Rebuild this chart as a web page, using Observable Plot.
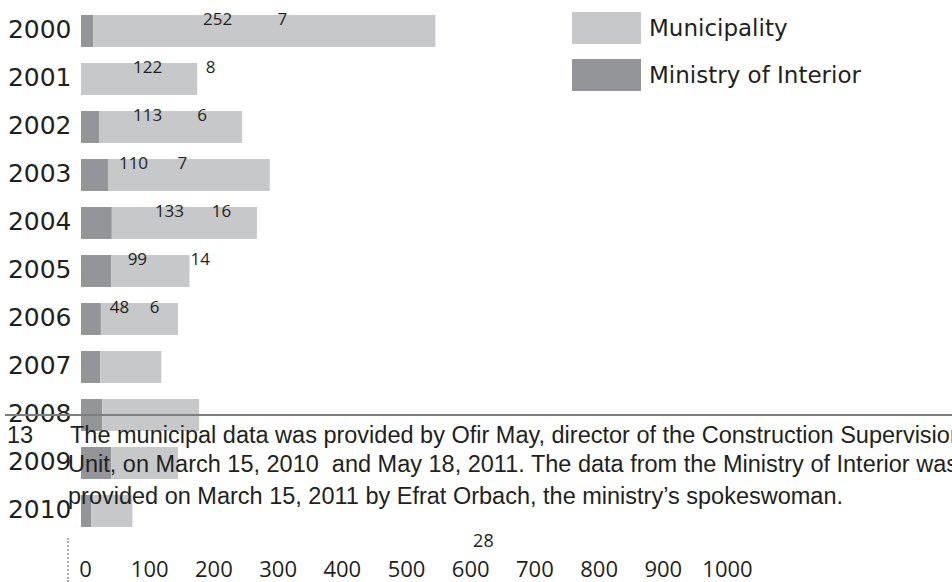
<!DOCTYPE html>
<html>
<head>
<meta charset="utf-8">
<script src="https://cdn.jsdelivr.net/npm/d3@7"></script>
<script src="https://cdn.jsdelivr.net/npm/@observablehq/plot@0.6"></script>
<style>
  body { margin: 0; background: #fff; }
  #wrap { position: relative; width: 952px; height: 582px; overflow: hidden; color: #231f20; background: #fff; }
  #chart svg { display: block; }
  .abs { position: absolute; white-space: nowrap; }
  .fn { font-family: "Liberation Sans", Arial, sans-serif; font-size: 23.5px; line-height: 23.5px; }
  .lg { font-family: "DejaVu Sans", sans-serif; font-size: 23px; line-height: 23px; }
  .sw { position: absolute; width: 69px; height: 32px; }
  .rule { position: absolute; left: 5px; right: 0; top: 414px; height: 1.6px; background: #7d7d7d; }
  .dots { position: absolute; left: 67px; top: 538px; height: 44px; border-left: 2px dotted #a9a9a9; }
</style>
</head>
<body>
<div id="wrap">
  <div id="chart"></div>
</div>
<script>
// ---- data ----
const years = ["2000","2001","2002","2003","2004","2005","2006","2007","2008","2009","2010"];
const ministry     = [19,  0, 28, 42, 48, 47, 31, 30, 33, 47, 16];   // dark segment
const municipality = [533, 181, 223, 252, 226, 122, 120, 95, 151, 104, 64]; // light segment
const seriesNames = ["Ministry of Interior", "Municipality"];
const legendOrder = ["Municipality", "Ministry of Interior"];
const xTicks = [0, 100, 200, 300, 400, 500, 600, 700, 800, 900, 1000];

// printed numbers as they appear (garbled annotations of the original)
const noteYears        = ["2000","2001","2002","2003","2004","2005","2006"];
const municipalNotes   = [252, 122, 113, 110, 133, 99, 48];
const ministryNotes    = [7, 8, 6, 7, 16, 14, 6];
const strayNote        = 28;
// annotation placement on the x scale (layout, not data)
const municipalNoteAt  = [212, 103, 103, 81, 137, 87, 59];
const ministryNoteAt   = [313, 201, 188, 157, 218, 185, 114];
const strayNoteAt      = 626;

const footnote = [
  "The municipal data was provided by Ofir May, director of the Construction Supervision",
  "Unit, on March 15, 2010\u00a0 and May 18, 2011. The data from the Ministry of Interior was",
  "provided on March 15, 2011 by Efrat Orbach, the ministry\u2019s spokeswoman."
];
const footnoteNumber = "13";

const colors = {"Municipality": "#c7c8ca", "Ministry of Interior": "#939598"};

// ---- build table ----
const rows = years.flatMap((y, i) => [
  {year: y, series: "Ministry of Interior", value: ministry[i]},
  {year: y, series: "Municipality", value: municipality[i]}
]);
const notes = noteYears.flatMap((y, i) => [
  {year: y, label: String(municipalNotes[i]), pos: municipalNoteAt[i]},
  {year: y, label: String(ministryNotes[i]), pos: ministryNoteAt[i]}
]);

const chart = Plot.plot({
  width: 952,
  height: 582,
  marginLeft: 81,
  marginRight: 229,
  marginTop: 12,
  marginBottom: 52,
  style: {background: "transparent", color: "#231f20", overflow: "visible"},
  x: {domain: [0, 1000], label: null},
  y: {domain: years, paddingInner: 0.342, paddingOuter: 0, align: 0.5, label: null},
  color: {domain: seriesNames, range: seriesNames.map(s => colors[s])},
  marks: [
    Plot.barX(rows, Plot.stackX({x: "value", y: "year", fill: "series"})),
    Plot.axisY({tickSize: 0, tickPadding: 10, fontSize: 25, fontFamily: "DejaVu Sans", dy: -2, label: null}),
    Plot.axisX({ticks: xTicks, tickFormat: d => String(d), tickSize: 0, tickPadding: 31, fontSize: 22, fontFamily: "Open Sans", dx: 4, label: null}),
    Plot.text(notes, {x: "pos", y: "year", text: "label", dy: -12, fontSize: 17, fontFamily: "Open Sans", fill: "#231f20"}),
    Plot.text([strayNote], {x: () => strayNoteAt, text: d => String(d), frameAnchor: "bottom", dy: 16, fontSize: 18, fontFamily: "Open Sans", fill: "#231f20"})
  ]
});
document.getElementById("chart").appendChild(chart);

// ---- legend ----
const wrap = document.getElementById("wrap");
legendOrder.forEach((name, i) => {
  const sw = document.createElement("div");
  sw.className = "sw";
  sw.style.left = "572px";
  sw.style.top = (12 + i * 47) + "px";
  sw.style.background = colors[name];
  wrap.appendChild(sw);
  const t = document.createElement("div");
  t.className = "abs lg";
  t.style.left = "649px";
  t.style.top = (16.5 + i * 47) + "px";
  t.textContent = name;
  wrap.appendChild(t);
});

// ---- footnote overlay ----
const rule = document.createElement("div");
rule.className = "rule";
wrap.appendChild(rule);
const dots = document.createElement("div");
dots.className = "dots";
wrap.appendChild(dots);

const fnTops = [424.1, 453.1, 484.6];
const num = document.createElement("div");
num.className = "abs fn";
num.style.left = "7px";
num.style.top = fnTops[0] + "px";
num.textContent = footnoteNumber;
wrap.appendChild(num);
footnote.forEach((line, i) => {
  const d = document.createElement("div");
  d.className = "abs fn";
  d.style.left = (i === 0 ? 70 : 68) + "px";
  d.style.top = fnTops[i] + "px";
  d.textContent = line;
  wrap.appendChild(d);
});
</script>
</body>
</html>
